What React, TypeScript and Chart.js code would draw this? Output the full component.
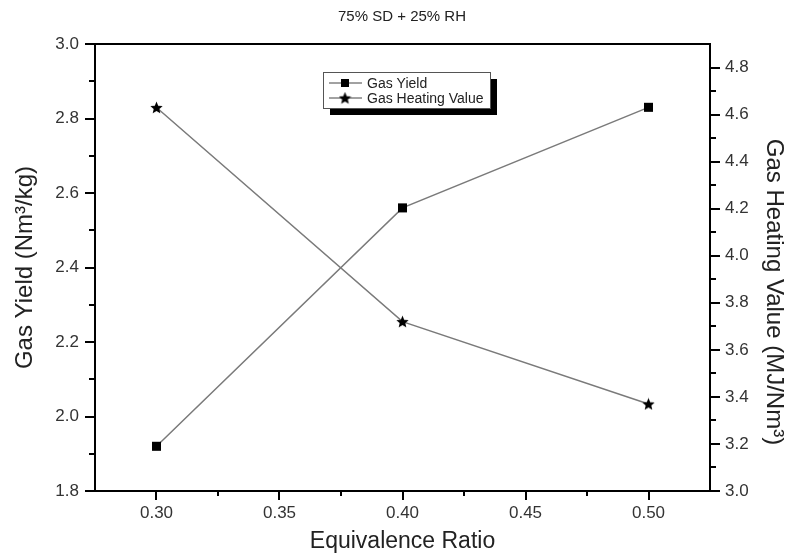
import React, { useEffect, useRef } from "react";
import { Chart, registerables } from "chart.js";
Chart.register(...registerables);

const chartTitle = "75% SD + 25% RH";
const xTitle = "Equivalence Ratio";
const yTitle = "Gas Yield (Nm³/kg)";
const y1Title = "Gas Heating Value (MJ/Nm³)";
const seriesNames = ["Gas Yield", "Gas Heating Value"];

const ratios = [0.3, 0.4, 0.5];
const gasYield = [1.92, 2.56, 2.83];
const heatingValue = [4.63, 3.72, 3.37];

const xTicks = [0.3, 0.35, 0.4, 0.45, 0.5];
const xMinor = [0.325, 0.375, 0.425, 0.475];
const yTicks = [1.8, 2.0, 2.2, 2.4, 2.6, 2.8, 3.0];
const yMinor = [1.9, 2.1, 2.3, 2.5, 2.7, 2.9];
const y1Ticks = [3.0, 3.2, 3.4, 3.6, 3.8, 4.0, 4.2, 4.4, 4.6, 4.8];
const y1Minor = [3.1, 3.3, 3.5, 3.7, 3.9, 4.1, 4.3, 4.5, 4.7];

const FONT = "'Liberation Sans', Arial, sans-serif";

function makeStar(d: number, color: string) {
  const c = document.createElement("canvas");
  c.width = d;
  c.height = d;
  const ctx = c.getContext("2d")!;
  const cx = d / 2, cy = d / 2 + 0.5, R = d / 2, r = R * 0.45;
  ctx.beginPath();
  for (let i = 0; i < 10; i++) {
    const a = -Math.PI / 2 + (i * Math.PI) / 5;
    const rad = i % 2 === 0 ? R : r;
    ctx.lineTo(cx + rad * Math.cos(a), cy + rad * Math.sin(a));
  }
  ctx.closePath();
  ctx.fillStyle = color;
  ctx.fill();
  return c;
}

export default function App() {
  const ref = useRef<HTMLCanvasElement | null>(null);
  useEffect(() => {
    document.body.style.margin = "0";
    const star = makeStar(13, "#000");
    const decor = {
      id: "decor",
      afterDraw(chart: any) {
        const ctx = chart.ctx as CanvasRenderingContext2D;
        const { left, right, top, bottom } = chart.chartArea;
        const sx = chart.scales.x, sy = chart.scales.y, sy1 = chart.scales.y1;
        ctx.save();
        ctx.strokeStyle = "#000";
        ctx.lineWidth = 2;
        const seg = (x1: number, y1: number, x2: number, y2: number) => {
          ctx.beginPath();
          ctx.moveTo(x1, y1);
          ctx.lineTo(x2, y2);
          ctx.stroke();
        };
        // top frame
        seg(left - 1, top, right + 1, top);
        xTicks.forEach((v) => { const p = Math.round(sx.getPixelForValue(v)); seg(p, bottom, p, bottom + 9); });
        xMinor.forEach((v) => { const p = Math.round(sx.getPixelForValue(v)); seg(p, bottom, p, bottom + 5); });
        yTicks.forEach((v) => { const p = Math.round(sy.getPixelForValue(v)); seg(left, p, left - 10, p); });
        yMinor.forEach((v) => { const p = Math.round(sy.getPixelForValue(v)); seg(left, p, left - 6, p); });
        y1Ticks.forEach((v) => { const p = Math.round(sy1.getPixelForValue(v)); seg(right, p, right + 10, p); });
        y1Minor.forEach((v) => { const p = Math.round(sy1.getPixelForValue(v)); seg(right, p, right + 6, p); });

        // title
        ctx.fillStyle = "#222";
        ctx.font = `15px ${FONT}`;
        ctx.textAlign = "center";
        ctx.textBaseline = "middle";
        ctx.fillText(chartTitle, 402, 17);

        // right axis title
        ctx.save();
        ctx.translate(774, 292);
        ctx.rotate(Math.PI / 2);
        ctx.font = `24px ${FONT}`;
        ctx.fillStyle = "#222";
        ctx.textAlign = "center";
        ctx.textBaseline = "middle";
        ctx.fillText(y1Title, 0, 0);
        ctx.restore();

        // legend
        const bx = 323, by = 72, bw = 167, bh = 36;
        ctx.fillStyle = "#000";
        ctx.fillRect(bx + 7, by + 7, bw, bh);
        ctx.fillStyle = "#fff";
        ctx.fillRect(bx, by, bw, bh);
        ctx.strokeStyle = "#555";
        ctx.lineWidth = 1;
        ctx.strokeRect(bx + 0.5, by + 0.5, bw, bh);
        const rows = [by + 11, by + 26];
        rows.forEach((ry, i) => {
          ctx.strokeStyle = "#444";
          ctx.lineWidth = 1;
          seg(bx + 6, ry, bx + 39, ry);
          if (i === 0) {
            ctx.fillStyle = "#000";
            ctx.fillRect(bx + 18, ry - 4, 8, 8);
          } else {
            ctx.drawImage(star, bx + 22 - 6.5, ry - 6.5, 13, 13);
          }
          ctx.fillStyle = "#222";
          ctx.font = `14px ${FONT}`;
          ctx.textAlign = "left";
          ctx.textBaseline = "middle";
          ctx.fillText(seriesNames[i], bx + 44, ry + 1);
        });
        ctx.restore();
      },
    };

    const tickFont = { family: FONT, size: 17 };
    const titleFont = { family: FONT, size: 23 };
    const grid = { display: false, drawTicks: false };
    const border = { display: true, color: "#000", width: 2 };
    const chart = new Chart(ref.current!, {
      type: "scatter",
      data: {
        datasets: [
          {
            label: seriesNames[0],
            data: ratios.map((r, i) => ({ x: r, y: gasYield[i] })),
            showLine: true,
            borderColor: "#7a7a7a",
            borderWidth: 1.5,
            pointStyle: "rect",
            pointRadius: 6.4,
            pointBackgroundColor: "#000",
            pointBorderColor: "#000",
            pointBorderWidth: 0,
            yAxisID: "y",
          },
          {
            label: seriesNames[1],
            data: ratios.map((r, i) => ({ x: r, y: heatingValue[i] })),
            showLine: true,
            borderColor: "#7a7a7a",
            borderWidth: 1.5,
            pointStyle: star as any,
            pointRadius: 6,
            yAxisID: "y1",
          },
        ],
      },
      options: {
        animation: false,
        responsive: false,
        layout: { padding: { top: 44, left: 0, right: 0, bottom: 0 } },
        plugins: { legend: { display: false }, tooltip: { enabled: false }, title: { display: false } },
        scales: {
          x: {
            type: "linear",
            min: 0.275,
            max: 0.525,
            grid,
            border,
            afterBuildTicks: (s: any) => { s.ticks = xTicks.map((v) => ({ value: v })); },
            afterFit: (s: any) => { s.height = 65; },
            ticks: { font: tickFont, color: "#333", padding: 12, callback: (v: any) => Number(v).toFixed(2) },
            title: { display: true, text: xTitle, font: titleFont, color: "#222", padding: { top: 1, bottom: 1 } },
          },
          y: {
            type: "linear",
            position: "left",
            min: 1.8,
            max: 3.0,
            grid,
            border,
            afterBuildTicks: (s: any) => { s.ticks = yTicks.map((v) => ({ value: v })); },
            afterFit: (s: any) => { s.width = 95; },
            ticks: { font: tickFont, color: "#333", padding: 16, callback: (v: any) => Number(v).toFixed(1) },
            title: { display: true, text: yTitle, font: { family: FONT, size: 24 }, color: "#222", padding: { top: 11, bottom: 0 } },
          },
          y1: {
            type: "linear",
            position: "right",
            min: 3.0,
            max: 4.9,
            grid,
            border,
            afterBuildTicks: (s: any) => { s.ticks = y1Ticks.map((v) => ({ value: v })); },
            afterFit: (s: any) => { s.width = 80; },
            ticks: { font: tickFont, color: "#333", padding: 15, callback: (v: any) => Number(v).toFixed(1) },
            title: { display: false, text: y1Title },
          },
        },
      },
      plugins: [decor],
    });
    return () => chart.destroy();
  }, []);
  return (
    <div style={{ width: 790, height: 556 }}>
      <canvas ref={ref} width={790} height={556} style={{ display: "block" }} />
    </div>
  );
}
